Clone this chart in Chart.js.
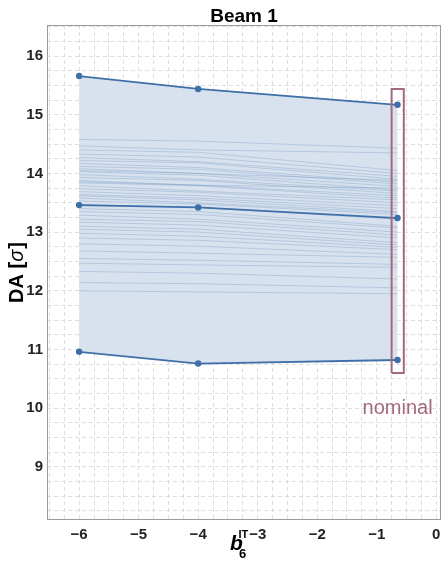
<!DOCTYPE html>
<html>
<head>
<meta charset="utf-8">
<script src="https://cdn.jsdelivr.net/npm/chart.js@4.4.1/dist/chart.umd.min.js"></script>
<style>
  html, body { margin: 0; padding: 0; background: #fff; }
  #wrap { width: 442px; height: 566px; }
</style>
</head>
<body>
<div id="wrap"><canvas id="chart" width="442" height="566"></canvas></div>
<script>
// b6 settings
const b6Values = [-6, -4, -0.65];
const nominalB6 = -0.65;

// envelope of the seeds + mean
const daMax = [15.66, 15.44, 15.17];
const daMean = [13.46, 13.42, 13.24];
const daMin = [10.96, 10.76, 10.82];

// individual seeds (DA at b6 = -6, -4, nominal)
const seedAtMinus6 = [14.58, 14.47, 14.40, 14.33, 14.27, 14.22, 14.17, 14.12, 14.08, 14.03,
  13.98, 13.93, 13.88, 13.84, 13.79, 13.74, 13.69, 13.64, 13.58, 13.53,
  13.40, 13.35, 13.29, 13.22, 13.17, 13.10, 13.05, 12.98, 12.90, 12.80,
  12.68, 12.55, 12.47, 12.33, 12.14, 12.00, 13.62, 13.86, 14.05, 13.47];
const seedAtMinus4 = [14.55, 14.40, 14.36, 14.28, 14.20, 14.18, 14.10, 14.07, 14.00, 13.97,
  13.90, 13.88, 13.80, 13.79, 13.70, 13.68, 13.62, 13.58, 13.50, 13.48,
  13.35, 13.30, 13.22, 13.18, 13.12, 13.05, 13.00, 12.93, 12.86, 12.76,
  12.64, 12.52, 12.44, 12.30, 12.12, 11.98, 13.55, 13.80, 14.00, 13.42];
const seedAtNominal = [14.43, 14.35, 14.05, 14.00, 13.95, 13.90, 13.85, 13.82, 13.78, 13.72,
  13.70, 13.66, 13.62, 13.58, 13.55, 13.50, 13.45, 13.40, 13.33, 13.30,
  13.10, 13.07, 13.00, 12.95, 12.90, 12.82, 12.78, 12.74, 12.70, 12.62,
  12.57, 12.45, 12.40, 12.20, 12.05, 11.95, 13.35, 13.75, 13.88, 13.22];

// nominal box (data coords)
const boxX = [-0.75, -0.545];
const boxY = [10.6, 15.44];
const nominalLabelY = 10.0;

const xRange = [-6.54, 0.08];
const yRange = [8.11, 16.53];
const gridStep = 0.25;

const lineColor = "#3f6fa8";
const nomColor = "#a36a7c";
const font = "'Liberation Sans', Arial, sans-serif";

// keep the plot area flush with the right edge (no point-overflow padding)
Chart.registry.getController("scatter").prototype.getMaxOverflow = () => 0;

const pts = arr => arr.map((v, i) => ({ x: b6Values[i], y: v }));

const seedSets = seedAtMinus6.map((v, i) => ({
  data: pts([v, seedAtMinus4[i], seedAtNominal[i]]),
  borderColor: "rgba(60,105,170,0.28)",
  borderWidth: 0.8,
  pointRadius: 0,
  showLine: true,
  fill: false,
  order: 5
}));

const datasets = [
  { data: pts(daMax), borderColor: lineColor, backgroundColor: lineColor, borderWidth: 1.8,
    pointRadius: 2.3, showLine: true, order: 1,
    fill: { target: 2, above: "rgb(215,226,238)", below: "rgb(215,226,238)" } },
  { data: pts(daMean), borderColor: lineColor, backgroundColor: lineColor, borderWidth: 1.8,
    pointRadius: 2.3, showLine: true, fill: false, order: 1 },
  { data: pts(daMin), borderColor: lineColor, backgroundColor: lineColor, borderWidth: 1.8,
    pointRadius: 2.3, showLine: true, fill: false, order: 1 },
  ...seedSets,
  { data: [{ x: boxX[0], y: boxY[0] }, { x: boxX[1], y: boxY[0] }, { x: boxX[1], y: boxY[1] },
           { x: boxX[0], y: boxY[1] }, { x: boxX[0], y: boxY[0] }],
    borderColor: nomColor, borderWidth: 2, pointRadius: 0, showLine: true, fill: false,
    tension: 0, order: 0 }
];

// grid every 0.25, labels only at integers
const quarterTicks = s => {
  const out = [];
  for (let k = Math.ceil(s.min / gridStep); k * gridStep <= s.max + 1e-9; k++) {
    out.push({ value: k * gridStep });
  }
  s.ticks = out;
};
const intLabel = v => {
  const r = Math.round(v);
  if (Math.abs(v - r) > 1e-6) return "";
  return r < 0 ? "\u2212" + Math.abs(r) : String(r);
};

const decor = {
  id: "decor",
  afterDraw(chart) {
    const { ctx, chartArea: a, scales } = chart;
    ctx.save();
    // frame
    ctx.strokeStyle = "#9a9a9a";
    ctx.lineWidth = 1;
    ctx.setLineDash([]);
    ctx.strokeRect(a.left + 0.5, a.top + 0.5, a.right - a.left - 1, a.bottom - a.top);
    // nominal label
    ctx.fillStyle = nomColor;
    ctx.font = "20px " + font;
    ctx.textAlign = "center";
    ctx.textBaseline = "middle";
    ctx.fillText("nominal", scales.x.getPixelForValue(nominalB6), scales.y.getPixelForValue(nominalLabelY));
    // title
    ctx.fillStyle = "#000";
    ctx.font = "bold 19px " + font;
    ctx.textBaseline = "alphabetic";
    ctx.fillText("Beam 1", (a.left + a.right) / 2, 22);
    // x title b_6^IT
    ctx.textAlign = "left";
    ctx.font = "italic bold 21px " + font;
    ctx.fillText("b", 230, 550);
    ctx.font = "bold 13px " + font;
    ctx.fillText("6", 239, 558);
    ctx.font = "bold 11px " + font;
    ctx.fillText("IT", 238.5, 538);
    // y title DA [sigma]
    ctx.translate(23, (a.top + a.bottom) / 2 + 1);
    ctx.rotate(-Math.PI / 2);
    const p1 = "DA [", p2 = "\u03c3", p3 = "]";
    const fb = "bold 20px " + font;
    const fi = "italic 20px " + font;
    ctx.font = fb; const w1 = ctx.measureText(p1).width; const w3 = ctx.measureText(p3).width;
    ctx.font = fi; const w2 = ctx.measureText(p2).width;
    const x0 = -(w1 + w2 + w3) / 2;
    ctx.font = fb; ctx.fillText(p1, x0, 0);
    ctx.font = fi; ctx.fillText(p2, x0 + w1, 0);
    ctx.font = fb; ctx.fillText(p3, x0 + w1 + w2 + 1, 0);
    ctx.restore();
  }
};

const tickFont = { size: 15, weight: "bold", family: font };
const noPad = s => { s.paddingLeft = 0; s.paddingRight = 0; s.paddingTop = 0; s.paddingBottom = 0; };

new Chart(document.getElementById("chart"), {
  type: "scatter",
  data: { datasets },
  options: {
    responsive: false,
    animation: false,
    layout: { padding: { top: 25, right: 1, left: 0, bottom: 0 } },
    plugins: {
      legend: { display: false },
      tooltip: { enabled: false },
      filler: { drawTime: "beforeDatasetsDraw" }
    },
    elements: { line: { tension: 0 } },
    scales: {
      x: {
        type: "linear", min: xRange[0], max: xRange[1],
        afterBuildTicks: quarterTicks,
        afterFit: s => { s.height = 47; noPad(s); },
        ticks: { autoSkip: false, padding: 7, color: "#222", font: tickFont,
                 callback: intLabel, maxRotation: 0 },
        grid: { color: "#dedede", drawTicks: false, lineWidth: 1 },
        border: { display: false, dash: [4, 3] }
      },
      y: {
        type: "linear", min: yRange[0], max: yRange[1],
        afterBuildTicks: quarterTicks,
        afterFit: s => { s.width = 47; noPad(s); },
        ticks: { autoSkip: false, padding: 4, color: "#222", font: tickFont,
                 callback: intLabel },
        grid: { color: "#dedede", drawTicks: false, lineWidth: 1 },
        border: { display: false, dash: [4, 3] }
      }
    }
  },
  plugins: [decor]
});
</script>
</body>
</html>
